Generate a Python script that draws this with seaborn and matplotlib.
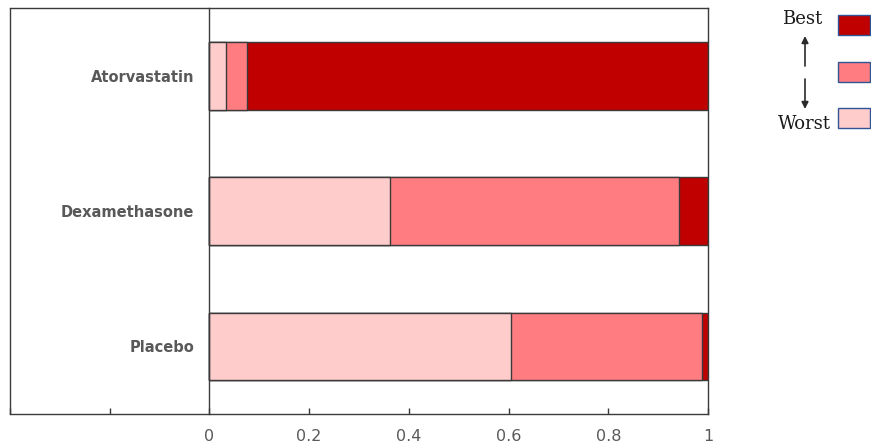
import numpy as np
import pandas as pd
import matplotlib
matplotlib.use("Agg")
import matplotlib.pyplot as plt
from matplotlib.patches import Rectangle, FancyArrowPatch
import seaborn as sns

# ---- data ----
categories = ["Atorvastatin", "Dexamethasone", "Placebo"]
worst = [0.034, 0.363, 0.605]
middle = [0.041, 0.579, 0.383]
best = [0.925, 0.058, 0.012]
xtick_vals = [-0.4, -0.2, 0, 0.2, 0.4, 0.6, 0.8, 1.0]
xtick_labels = ["", "", "0", "0.2", "0.4", "0.6", "0.8", "1"]

c_best, c_mid, c_worst = "#C00000", "#FF7C80", "#FFCCCC"
edge = "#3a3a3a"
txt = "#595959"

sns.set_theme(style="white")
plt.rcParams["font.family"] = ["DejaVu Sans"]

df = pd.DataFrame({"cat": categories, "worst": worst, "middle": middle, "best": best})
df["c1"] = df["worst"]
df["c2"] = df["worst"] + df["middle"]
df["c3"] = df["c2"] + df["best"]

fig = plt.figure(figsize=(8.71, 4.46), dpi=100)
ax = fig.add_axes([10 / 871, 1 - 414 / 446, 698 / 871, 406 / 446])

for col, colr in [("c3", c_best), ("c2", c_mid), ("c1", c_worst)]:
    sns.barplot(data=df, x=col, y="cat", orient="h", color=colr, saturation=1,
                width=0.5, edgecolor=edge, linewidth=1.0, ax=ax)

ax.set_xlim(-0.4, 1.0)
ax.set_ylim(2.5, -0.5)
ax.set_xlabel("")
ax.set_ylabel("")

for s in ["top", "bottom", "right"]:
    ax.spines[s].set_visible(True)
    ax.spines[s].set_color(edge)
    ax.spines[s].set_linewidth(1.0)
ax.spines["left"].set_position(("data", 0))
ax.spines["left"].set_color(edge)
ax.spines["left"].set_linewidth(1.0)
ax.axvline(-0.4, color=edge, linewidth=1.0, clip_on=False)

ax.set_xticks(xtick_vals)
ax.set_xticklabels(xtick_labels)
ax.tick_params(axis="x", direction="in", length=4, width=1, color=edge,
               pad=11, labelsize=11.5, labelcolor=txt, bottom=True, top=False)
ax.tick_params(axis="y", length=0, pad=11, labelsize=10.5, labelcolor=txt)
for lab in ax.get_yticklabels():
    lab.set_fontweight("bold")

# ---- custom legend ----
legend_colors = [c_best, c_mid, c_worst]
legend_tops = [15, 62, 108]
for colr, top in zip(legend_colors, legend_tops):
    fig.patches.append(Rectangle((838 / 871, 1 - (top + 20) / 446), 32 / 871, 20 / 446,
                                 transform=fig.transFigure, facecolor=colr,
                                 edgecolor="#2F5597", linewidth=1.0))

fig.text(802 / 871, 1 - 19 / 446, "Best", family="DejaVu Serif", fontsize=13,
         ha="center", va="center", color="#1a1a1a")
fig.text(804 / 871, 1 - 124 / 446, "Worst", family="DejaVu Serif", fontsize=13,
         ha="center", va="center", color="#1a1a1a")

for y0, y1 in [(66, 36), (79, 109)]:
    fig.patches.append(FancyArrowPatch((805 / 871, 1 - y0 / 446), (805 / 871, 1 - y1 / 446),
                                       transform=fig.transFigure, arrowstyle="-|>",
                                       shrinkA=0, shrinkB=0,
                                       mutation_scale=10, color="#2a2a2a", linewidth=1.2))

fig.savefig("out.png", dpi=100, facecolor="white")
